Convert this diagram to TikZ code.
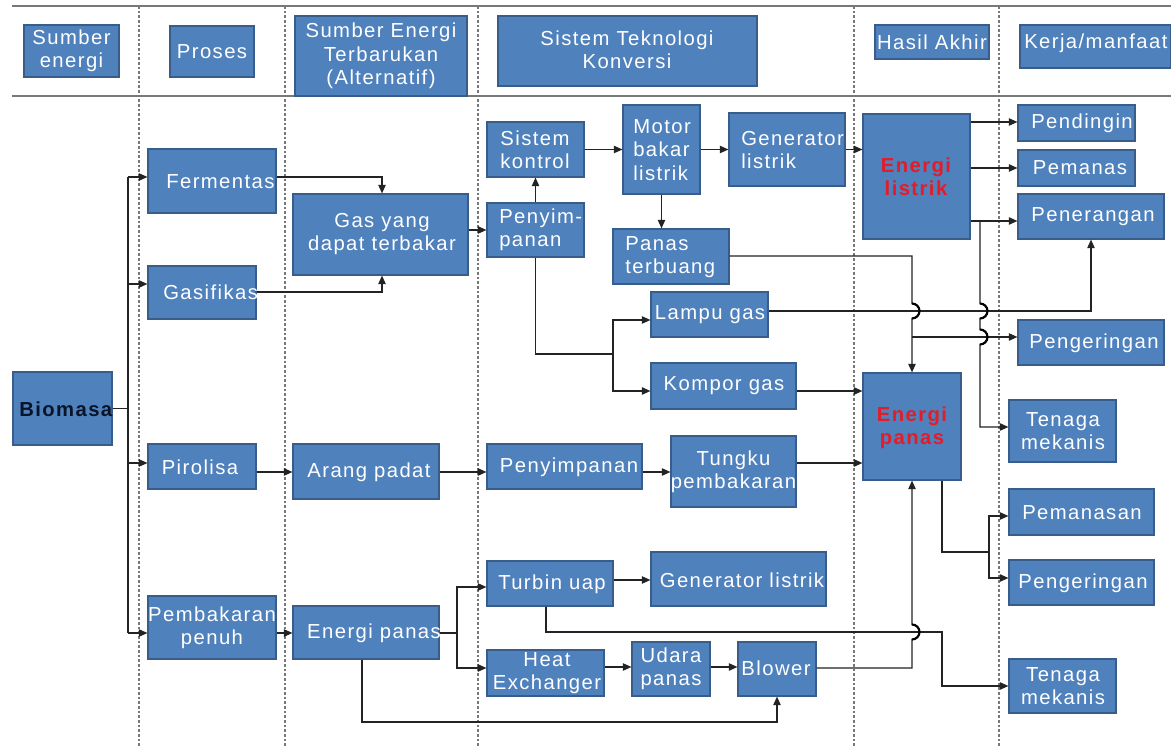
\documentclass[tikz,border=0pt]{standalone}
\usepackage{fontspec}
\setmainfont{Liberation Sans}[LetterSpace=7]
\usetikzlibrary{arrows.meta}
\definecolor{boxfill}{RGB}{79,129,189}
\definecolor{boxdraw}{RGB}{56,93,138}
\definecolor{linec}{RGB}{35,35,35}
\definecolor{sepc}{RGB}{120,120,120}
\definecolor{redt}{RGB}{226,28,40}
\definecolor{navy}{RGB}{10,20,40}
\newcommand{\bx}[5]{\node[box, minimum width={(#4-#2)*0.75pt}, minimum height={(#5-#3)*0.75pt}] (#1) at ({(#2+#4)/2},{(#3+#5)/2}) {};}
\begin{document}
\begin{tikzpicture}[x=0.75pt,y=-0.75pt,
 box/.style={draw=boxdraw, fill=boxfill, line width=0.8pt, inner sep=0pt},
 txt/.style={text=white, align=center, inner sep=0pt, font=\fontsize{15.2}{17.5}\selectfont},
 hot/.style={txt, text=redt, font=\fontsize{15.2}{17.5}\selectfont\bfseries},
 ln/.style={draw=linec, line width=1.1pt},
 arr/.style={ln, -{Triangle[length=6.5pt,width=5.5pt]}},
 hopc/.style={draw=black, line width=1.6pt},
 sep/.style={draw=sepc, line width=0.8pt, dash pattern=on 2pt off 1.5pt},
 rule/.style={draw=sepc, line width=1.2pt}]
\useasboundingbox (0,0) rectangle (1171,748);
\fill[white] (0,0) rectangle (1171,748);
% separators and rules
\foreach \x in {139,285,478,854,999} \draw[sep] (\x,6) -- (\x,748);
\draw[rule] (12,6) -- (1171,6);
\draw[rule] (12,96) -- (1171,96);
% header boxes
\bx{h1}{24}{25}{119}{77}
\bx{h2}{170}{26}{254}{77}
\bx{h3}{295}{16}{467}{96}
\bx{h4}{498}{16}{757}{86}
\bx{h5}{875}{25}{989}{59}
\bx{h6}{1020}{25}{1171}{68}
\node[txt] (h1t) at (71.5,51) {Sumber\\energi};
\node[txt] (h2t) at (212,51.5) {Proses};
\node[txt] (h3t) at (381,56) {Sumber Energi\\Terbarukan\\(Alternatif)};
\node[txt] (h4t) at (627,50) {Sistem Teknologi\\Konversi};
\node[txt] (h5t) at (932,42) {Hasil Akhir};
\node[txt, anchor=west] (h6t) at (1024,43) {Kerja/manfaat};
% body boxes
\bx{bio}{13}{372}{112}{445}
\bx{ferm}{148}{149}{276}{213}
\bx{gasi}{148}{266}{256}{319}
\bx{piro}{148}{444}{256}{489}
\bx{pemb}{148}{596}{276}{659}
\bx{gas}{293}{194}{468}{275}
\bx{arang}{293}{444}{439}{499}
\bx{enp1}{293}{606}{439}{659}
\bx{sisk}{487}{122}{584}{177}
\bx{motor}{623}{105}{700}{194}
\bx{gen1}{729}{113}{845}{186}
\bx{peny1}{487}{203}{584}{257}
\bx{panas}{613}{229}{729}{284}
\bx{lampu}{651}{292}{768}{337}
\bx{kompor}{651}{363}{796}{409}
\bx{peny2}{487}{444}{642}{489}
\bx{tungku}{671}{436}{796}{507}
\bx{turbin}{487}{561}{613}{606}
\bx{gen2}{651}{552}{826}{606}
\bx{hx}{487}{650}{604}{696}
\bx{udara}{632}{642}{710}{696}
\bx{blower}{738}{642}{816}{696}
\bx{el}{863}{114}{970}{239}
\bx{ep}{863}{373}{961}{480}
\bx{pend}{1018}{105}{1135}{141}
\bx{pemanas}{1018}{150}{1135}{186}
\bx{pener}{1018}{194}{1164}{239}
\bx{peng1}{1018}{320}{1164}{365}
\bx{ten1}{1009}{400}{1116}{462}
\bx{pemsan}{1009}{489}{1154}{535}
\bx{peng2}{1009}{560}{1154}{605}
\bx{ten2}{1009}{659}{1116}{713}
% body texts
\node[txt, text=navy, font=\fontsize{15.2}{17.5}\selectfont\bfseries, anchor=west] (biot) at (19,409) {Biomasa};
\node[txt, anchor=west] (fermt) at (166,181) {Fermentasi};
\node[txt, anchor=west] (gasit) at (163,292) {Gasifikasi};
\node[txt] (pirot) at (200,467) {Pirolisa};
\node[txt] (pembt) at (212,628) {Pembakaran\\penuh};
\node[txt] (gast) at (382,234) {Gas yang\\dapat terbakar};
\node[txt] (arangt) at (369,472) {Arang padat};
\node[txt] (enp1t) at (374,633) {Energi panas};
\node[txt] (siskt) at (535,150) {Sistem\\kontrol};
\node[txt, align=left, anchor=west] (motort) at (633,150) {Motor\\bakar\\listrik};
\node[txt, align=left, anchor=west] (gen1t) at (741,150) {Generator\\listrik};
\node[txt, align=left, anchor=west] (peny1t) at (499,230) {Penyim-\\panan};
\node[txt, align=left, anchor=west] (panast) at (625,257) {Panas\\terbuang};
\node[txt] (lamput) at (710,315) {Lampu gas};
\node[txt] (komport) at (724,386) {Kompor gas};
\node[txt] (peny2t) at (569,467) {Penyimpanan};
\node[txt] (tungkut) at (733.5,472) {Tungku\\pembakaran};
\node[txt] (turbint) at (552,584) {Turbin uap};
\node[txt] (gen2t) at (742,580) {Generator listrik};
\node[txt] (hxt) at (547,673) {Heat\\Exchanger};
\node[txt] (udarat) at (671,669) {Udara\\panas};
\node[txt] (blowert) at (776,668) {Blower};
\node[hot] (elt) at (916,177) {Energi\\listrik};
\node[hot] (ept) at (912,428) {Energi\\panas};
\node[txt] (pendt) at (1082,123) {Pendingin};
\node[txt] (pemanast) at (1080,168) {Pemanas};
\node[txt] (penert) at (1093,217) {Penerangan};
\node[txt] (peng1t) at (1094,343) {Pengeringan};
\node[txt] (ten1t) at (1063,431) {Tenaga\\mekanis};
\node[txt] (pemsant) at (1082,513) {Pemanasan};
\node[txt] (peng2t) at (1083,583) {Pengeringan};
\node[txt] (ten2t) at (1063,686) {Tenaga\\mekanis};
% junctions
\coordinate (tt) at (128,177);
\coordinate (tb) at (128,633);
\coordinate (j1) at (912,337);
\coordinate (j2) at (980,221);
\coordinate (j3) at (613,354);
\coordinate (j4) at (457,633);
\coordinate (j5) at (989,552);
% connectors: left part
\draw[ln] (bio.east) -- (bio.east -| tt);
\draw[ln] (tt) -- (tb);
\draw[arr] (tt) -- (tt -| ferm.west);
\draw[arr] (tt |- 0,284) -- (gasi.west |- 0,284);
\draw[arr] (tt |- 0,463) -- (piro.west |- 0,463);
\draw[arr] (tb) -- (tb -| pemb.west);
\draw[arr] (ferm.east |- 0,177) -| (gas.north -| 382,0);
\draw[arr] (gasi.east |- 0,292) -| (gas.south -| 382,0);
\draw[arr] (piro.east |- 0,472) -- (arang.west |- 0,472);
\draw[arr] (arang.east |- 0,472) -- (peny2.west |- 0,472);
\draw[arr] (peny2.east |- 0,472) -- (tungku.west |- 0,472);
\draw[arr] (tungku.east |- 0,463) -- (ep.west |- 0,463);
\draw[arr] (pemb.east |- 0,633) -- (enp1.west |- 0,633);
% upper conversion
\draw[arr] (gas.east |- peny1.west) -- (peny1.west);
\draw[arr] (peny1.north) -- (sisk.south);
\draw[arr] (sisk.east) -- (sisk.east -| motor.west);
\draw[arr] (motor.east) -- (motor.east -| gen1.west);
\draw[arr] (gen1.east) -- (gen1.east -| el.west);
\draw[arr] (motor.south) -- (motor.south |- panas.north);
\draw[ln] (peny1.south) |- (j3);
\draw[arr] (j3) |- (lampu.west |- 0,320);
\draw[arr] (j3) |- (kompor.west |- 0,391);
\draw[arr] (kompor.east |- 0,391) -- (ep.west |- 0,391);
\draw[arr] (lampu.east |- 0,311) -| (pener.south);
\draw[arr] (panas.east |- 0,256) -| (912,303.5) arc[start angle=-90,end angle=90,radius=7.5] -- (ep.north -| j1);
\draw[arr] (j1) -- (peng1.west |- j1);
% energi listrik outputs
\draw[arr] (el.east |- 0,122) -- (pend.west |- 0,122);
\draw[arr] (el.east |- 0,168) -- (pemanas.west |- 0,168);
\draw[arr] (el.east |- j2) -- (pener.west |- j2);
\draw[arr] (j2) -- (980,303.5) arc[start angle=-90,end angle=90,radius=7.5] -- (980,329.5) arc[start angle=-90,end angle=90,radius=7.5] -- (980,427) -- (ten1.west |- 0,427);
% lower part
\draw[ln] (enp1.east |- j4) -- (j4);
\draw[arr] (j4) |- (turbin.west |- 0,587);
\draw[arr] (j4) |- (hx.west |- 0,668);
\draw[arr] (turbin.east |- 0,580) -- (gen2.west |- 0,580);
\draw[arr] (hx.east |- 0,667) -- (udara.west |- 0,667);
\draw[arr] (udara.east |- 0,667) -- (blower.west |- 0,667);
\draw[arr] (blower.east |- 0,668) -| (912,639.5) arc[start angle=90,end angle=-90,radius=7.5] -- (ep.south -| j1);
\draw[arr] (turbin.south -| 546,0) |- (942,632) -- (942,686) -- (ten2.west |- 0,686);
\draw[arr] (enp1.south -| 362,0) |- (blower.south |- 0,722) -- (blower.south);
\draw[ln] (ep.south -| 942,0) |- (j5);
\draw[arr] (j5) |- (pemsan.west |- 0,516);
\draw[arr] (j5) |- (peng2.west |- 0,578);
% line hops drawn bold
\draw[hopc] (912,303.5) arc[start angle=-90,end angle=90,radius=7.5];
\draw[hopc] (980,303.5) arc[start angle=-90,end angle=90,radius=7.5];
\draw[hopc] (980,329.5) arc[start angle=-90,end angle=90,radius=7.5];
\draw[hopc] (912,624.5) arc[start angle=-90,end angle=90,radius=7.5];
\end{tikzpicture}
\end{document}
